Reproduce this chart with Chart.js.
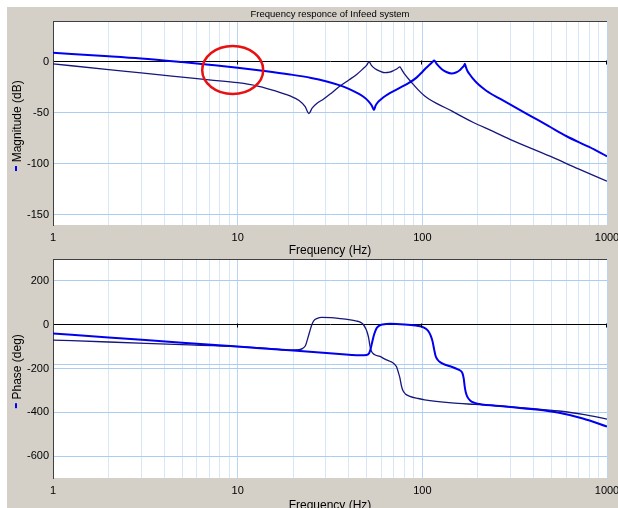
<!DOCTYPE html>
<html>
<head>
<meta charset="utf-8">
<script src="https://cdn.jsdelivr.net/npm/chart.js@4.4.0/dist/chart.umd.min.js"></script>
<style>
  html, body { margin: 0; padding: 0; width: 618px; height: 508px; overflow: hidden; background: #fff; position: relative; }
  #panel { position: absolute; left: 7px; top: 7px; width: 611px; height: 501px; background: #d4d0c8; }
  canvas { position: absolute; left: 0; }
  #magChart { top: 0; }
  #phaseChart { top: 238px; }
</style>
</head>
<body>
<div id="panel"></div>
<canvas id="magChart" width="618" height="258"></canvas>
<canvas id="phaseChart" width="618" height="275"></canvas>
<script>
// frequency grid (Hz) and which of them get a label
const freqGrid = [1, 2, 3, 4, 5, 6, 7, 8, 9, 10, 20, 30, 40, 50, 60, 70, 80, 90,
  100, 200, 300, 400, 500, 600, 700, 800, 900, 1000]
const decades = [1, 10, 100, 1000]

const magTicks = [-150, -100, -50, 0]
const phaseTicks = [-600, -400, -200, -180, 0, 200]

// red circle drawn on the magnitude plot: centre in Hz / dB
const markFreq = 9.4
const markDb = -8

// magnitude, system A (bright blue)
const magFreqA = [1, 2, 3, 5, 7, 10, 14, 19.2, 25, 30, 35.8, 40, 44, 48, 51, 53.2, 54.7, 55.8, 57.5,
  60, 63, 67, 75, 85, 93, 99, 104, 110, 113, 116, 119, 123, 128, 135, 144, 152, 160, 165, 168, 170,
  172, 175, 180, 187, 197, 210, 223, 263, 324, 398, 481, 604, 800, 1000]
const magA = [8.8, 5.5, 3.3, -0.3, -2.9, -5.8, -9, -12.4, -15.8, -19, -23.1, -26.6, -30.2, -34.3, -38.5, -42.8, -47.2, -43, -39.5,
  -36.5, -33.5, -30.5, -25.8, -20.5, -15.5, -10.7, -6.5, -2.5, -0.5, 1.3, -1.5, -4.5, -7.5, -10, -11.4, -10.5, -8, -5.5, -3.8, -2,
  -5, -8.5, -12, -16, -20.5, -25, -28.6, -36.2, -45.5, -54.5, -62.8, -73, -83.5, -92.6]

// magnitude, system B (navy)
const magFreqB = [1, 2, 3, 5, 7, 10, 13, 16, 19.2, 21.5, 23.2, 24.3, 25.3, 27, 29.1, 32, 35.8, 40, 44.1,
  47.5, 50, 51.5, 53, 55.5, 59, 62.7, 66.5, 70, 73, 75.6, 77.5, 80.4, 87.7, 95, 103, 120, 144, 167,
  189, 240, 298, 491, 700, 1000]
const magB = [-2, -7.6, -10.8, -15, -17.8, -20.5, -24, -28.5, -33.5, -38, -44, -50.7, -45.5, -40.5, -36.7, -31, -23.8, -17.8, -12.4,
  -7.2, -3.2, 0, -3.5, -6.8, -9.2, -10.7, -10.2, -8.5, -6.8, -4.9, -8, -12.4, -20.5, -27.5, -33.5, -41, -48.1, -54.5,
  -59.5, -68, -76, -92.5, -105, -117]

// phase, system A (bright blue)
const phFreqA = [1, 2, 5, 10, 20, 29, 40, 46, 50, 51.5, 52.5, 53.5, 54.8, 56.5, 58.5, 61, 67, 80, 92,
  100, 105, 108.5, 111, 113.5, 116, 118, 121, 126, 133, 145, 157, 162, 165, 167.5, 169.5, 172, 176,
  182, 192, 210, 250, 300, 400, 550, 740, 1000]
const phA = [-40, -58, -82, -100, -118, -128, -137, -140, -138, -130, -110, -80, -45, -16, -4, 1, 4, 1, -4,
  -10, -20, -33, -50, -75, -115, -143, -160, -173, -183, -193, -205, -212, -222, -245, -280, -310, -332,
  -347, -357, -364, -370, -376, -386, -402, -428, -465]

// phase, system B (navy)
const phFreqB = [1, 2, 5, 10, 15, 19.2, 21.5, 22.5, 23.3, 24, 24.6, 25.2, 25.8, 27, 28.5, 32, 35.8, 40,
  44.1, 46, 47.9, 49.5, 50.5, 51.2, 52, 53, 55, 58.9, 62.7, 66.8, 70, 72.5, 74, 75.6, 77, 78.6, 81,
  85.6, 95, 103, 144, 192, 250, 300, 400, 550, 740, 1000]
const phB = [-70, -79, -91, -100, -109, -116, -114, -108, -95, -60, -29, 0, 18, 29, 33, 32, 28, 23,
  16.5, 12, 1, -20, -40, -60, -95, -121, -136, -145, -157, -167, -177, -192, -215, -243, -278, -302, -316,
  -327, -337, -343, -357, -364, -370, -375, -383, -394, -409, -431]

const BLUE = '#0000ee'
const NAVY = '#16167c'
const FONT = "'Liberation Sans', Arial, sans-serif"

function pts(xs, ys) {
  return xs.map((x, i) => ({ x: x, y: ys[i] }))
}

const framePlugin = {
  id: 'frame',
  beforeDraw(chart) {
    const { ctx, chartArea: a } = chart
    ctx.save()
    ctx.fillStyle = '#ffffff'
    ctx.fillRect(a.left, a.top, a.right - a.left, a.bottom - a.top)
    ctx.restore()
  },
  afterDraw(chart) {
    const { ctx, chartArea: a, scales } = chart
    ctx.save()
    ctx.strokeStyle = '#404040'
    ctx.lineWidth = 1
    ctx.beginPath()
    ctx.moveTo(a.left, a.top + 0.5)
    ctx.lineTo(a.right, a.top + 0.5)
    ctx.stroke()
    // little marks on the zero line at each decade
    const y0 = Math.round(scales.y.getPixelForValue(0)) + 0.5
    ctx.strokeStyle = '#000'
    decades.slice(1).forEach(f => {
      const x = Math.round(scales.x.getPixelForValue(f)) - 0.5
      ctx.beginPath()
      ctx.moveTo(x, y0 - 2)
      ctx.lineTo(x, y0 + 2)
      ctx.stroke()
    })
    // blue legend dash in front of the axis title
    const t = scales.y.options.title
    ctx.font = '12px ' + FONT
    const w = ctx.measureText(t.text).width
    const c = (a.top + a.bottom) / 2
    ctx.fillStyle = '#0000ff'
    ctx.fillRect(15, c + w / 2 - 3, 2, 5)
    // hand drawn red circle (magnitude plot only)
    if (chart.options.plugins.frame && chart.options.plugins.frame.mark) {
      const cx = scales.x.getPixelForValue(markFreq)
      const cy = scales.y.getPixelForValue(markDb)
      ctx.strokeStyle = '#e81010'
      ctx.lineWidth = 2.5
      ctx.beginPath()
      ctx.ellipse(cx, cy, 30.5, 24, 0, 0, Math.PI * 2)
      ctx.stroke()
    }
    ctx.restore()
  }
}

function bodeChart(id, cfg) {
  return new Chart(document.getElementById(id), {
    type: 'line',
    data: {
      datasets: [
        { data: cfg.a, borderColor: BLUE, borderWidth: 2 },
        { data: cfg.b, borderColor: NAVY, borderWidth: 1.3 },
      ],
    },
    plugins: [framePlugin],
    options: {
      responsive: false,
      animation: false,
      events: [],
      datasets: {
        line: { pointRadius: 0, fill: false, cubicInterpolationMode: 'monotone' },
      },
      layout: { padding: { left: 0, right: 11, top: cfg.padTop, bottom: 0 } },
      plugins: {
        frame: { mark: cfg.mark },
        legend: { display: false },
        tooltip: { enabled: false },
        title: {
          display: !!cfg.title,
          text: cfg.title || '',
          fullSize: false,
          color: '#000',
          font: { family: FONT, size: 9.5, weight: 'normal', lineHeight: 1 },
          padding: { top: 10, bottom: 1.5 },
        },
      },
      scales: {
        x: {
          type: 'logarithmic',
          min: 1,
          max: 1000,
          afterBuildTicks: s => { s.ticks = freqGrid.map(v => ({ value: v })) },
          afterFit: s => { s.height = cfg.xHeight; s.paddingLeft = 0; s.paddingRight = 0 },
          grid: {
            drawTicks: false,
            color: c => decades.includes(c.tick && c.tick.value) ? '#b9d5f1' : '#d7e7f7',
          },
          border: { display: false },
          ticks: {
            autoSkip: false,
            maxRotation: 0,
            padding: 6,
            color: '#000',
            font: { family: FONT, size: 11 },
            callback: v => decades.includes(v) ? String(v) : '',
          },
          title: {
            display: true,
            text: 'Frequency (Hz)',
            color: '#000',
            font: { family: FONT, size: 12 },
            padding: { top: 0, bottom: 0 },
          },
        },
        y: {
          min: cfg.min,
          max: cfg.max,
          afterBuildTicks: s => { s.ticks = cfg.ticks.map(v => ({ value: v })) },
          afterFit: s => { s.width = 53 },
          grid: {
            drawTicks: false,
            color: c => (c.tick && c.tick.value === 0) ? '#000000' : '#abcdf0',
          },
          border: { display: true, color: '#404040' },
          ticks: {
            padding: 4,
            color: '#000',
            font: { family: FONT, size: 11 },
            callback: v => cfg.hidden.includes(v) ? '' : String(v),
          },
          title: {
            display: true,
            text: cfg.yTitle,
            color: '#000',
            font: { family: FONT, size: 12 },
            padding: { top: 10, bottom: 0 },
          },
        },
      },
    },
  })
}

bodeChart('magChart', {
  title: 'Frequency responce of Infeed system',
  mark: true,
  padTop: 0,
  xHeight: 33,
  min: -160,
  max: 40,
  ticks: magTicks,
  hidden: [],
  yTitle: '  Magnitude (dB) ',
  a: pts(magFreqA, magA),
  b: pts(magFreqB, magB),
})

bodeChart('phaseChart', {
  title: '',
  mark: false,
  padTop: 21,
  xHeight: 35,
  min: -700,
  max: 300,
  ticks: phaseTicks,
  hidden: [-180],
  yTitle: '  Phase (deg) ',
  a: pts(phFreqA, phA),
  b: pts(phFreqB, phB),
})
</script>
</body>
</html>
